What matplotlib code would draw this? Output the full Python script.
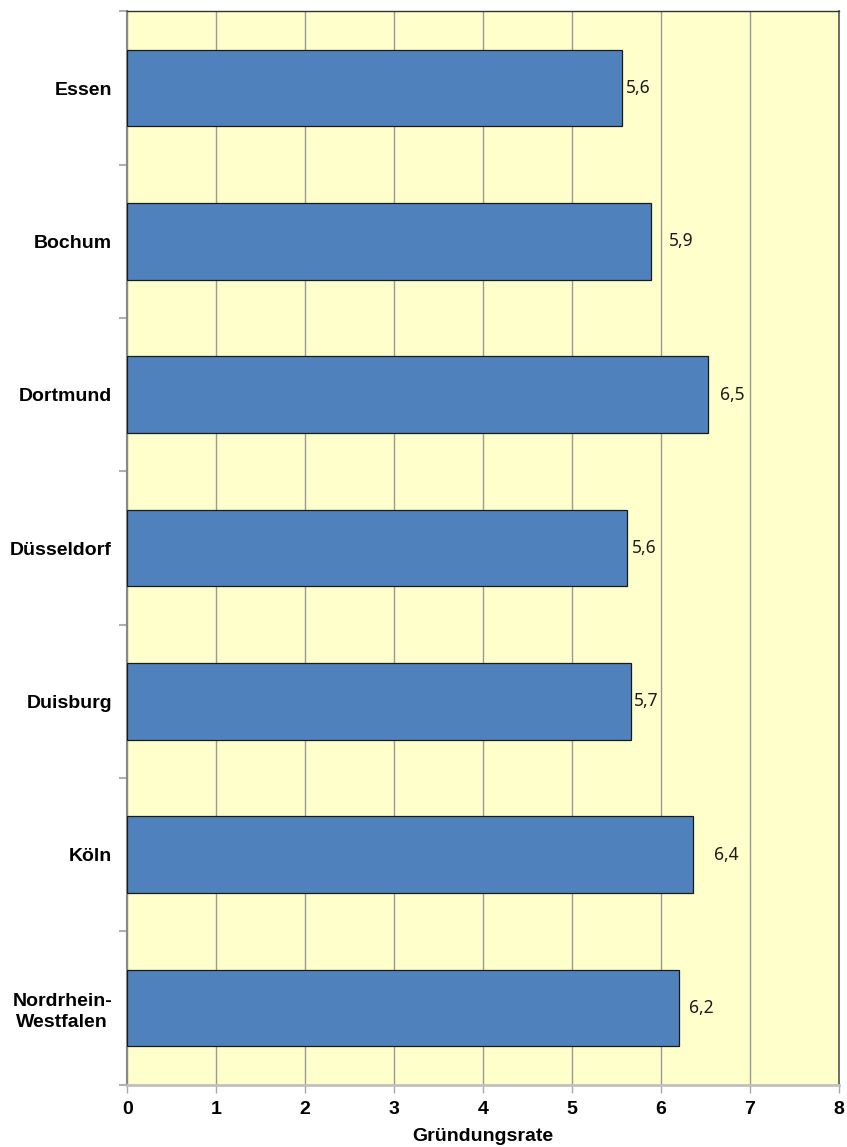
import numpy as np
import matplotlib
matplotlib.use("Agg")
import matplotlib.pyplot as plt

# Gründungsrate je Stadt (von oben nach unten)
staedte = ["Essen", "Bochum", "Dortmund", "Düsseldorf", "Duisburg", "Köln",
           "Nordrhein-\nWestfalen"]
rate = [5.56, 5.89, 6.53, 5.62, 5.66, 6.36, 6.20]
rate_label = ["5,6", "5,9", "6,5", "5,6", "5,7", "6,4", "6,2"]
x_ticks = [0, 1, 2, 3, 4, 5, 6, 7, 8]

# Abstand der Wertbeschriftung vom Balkenende (Pixel)
label_pad = [4, 18, 12, 5, 3, 21, 10]

BG = "#FFFFCC"
BAR = "#4F81BD"

fig = plt.figure(figsize=(8.47, 11.47), dpi=100)
ax = fig.add_axes([0.1503, 0.0543, 0.8399, 0.9358])
ax.set_facecolor(BG)

n = len(staedte)
y = np.arange(n)
ax.barh(y, rate, height=0.5, color=BAR, edgecolor="#1a1a1a", linewidth=0.9,
        zorder=3)

for yi, v, s, p in zip(y, rate, rate_label, label_pad):
    ax.annotate(s, (v, yi), xytext=(p * 0.72, 0), textcoords="offset points",
                ha="left", va="center", fontsize=12.5, family="Noto Sans",
                color="#1a1a1a", zorder=4)

ax.set_xlim(0, 8)
ax.set_ylim(n - 0.5, -0.5)
ax.set_xticks(x_ticks)
ax.set_xticklabels([str(t) for t in x_ticks], fontsize=14, weight="bold",
                   family="Liberation Sans")
ax.xaxis.grid(True, color="#9a9a9a", linewidth=1.0, zorder=1)
ax.set_axisbelow(True)

# Kategorienamen rechtsbündig, Tickstriche an den Grenzen
ax.set_yticks(y)
ax.set_yticklabels(staedte, fontsize=14, weight="bold",
                   family="Liberation Sans", ha="right",
                   multialignment="center", linespacing=1.3)
ax.tick_params(axis="y", length=0, pad=11)
ax.set_yticks(np.arange(n + 1) - 0.5, minor=True)
ax.tick_params(axis="y", which="minor", length=6, width=1.5, color="#b0b0b0")
ax.tick_params(axis="x", length=6, width=1.0, color="#a8a8a8", pad=6)

ax.set_xlabel("Gründungsrate", fontsize=14, weight="bold",
              family="Liberation Sans", labelpad=7)

ax.spines["left"].set_color("#888888")
ax.spines["left"].set_linewidth(1.5)
ax.spines["bottom"].set_color("#c0c0c0")
ax.spines["bottom"].set_linewidth(2.0)
ax.spines["top"].set_color("#333333")
ax.spines["top"].set_linewidth(1.0)
ax.spines["right"].set_color("#555555")
ax.spines["right"].set_linewidth(1.2)

fig.savefig("out.png", dpi=100)
